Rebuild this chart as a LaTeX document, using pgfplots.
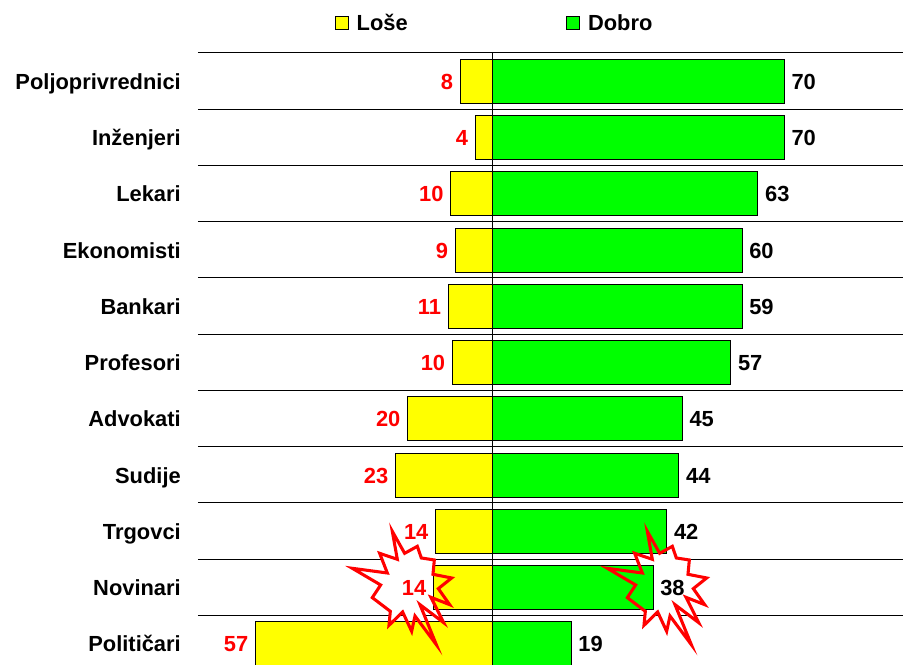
\documentclass[border=0pt]{standalone}
\usepackage{fontspec}
\setmainfont{Liberation Sans}
\usepackage{pgfplots}
\usepackage{pgfplotstable}
\pgfplotsset{compat=1.18}
\definecolor{ly}{RGB}{255,255,0}
\definecolor{lg}{RGB}{0,255,0}
\newcommand{\lab}{\fontsize{16.4}{18}\selectfont\bfseries}
% row, lose, dobro, rounded labels
\pgfplotstableread{
row lose dobro ll dl
0 -7.7 69.8 8 70
1 -4.1 69.8 4 70
2 -10.0 63.5 10 63
3 -8.9 59.7 9 60
4 -10.6 59.7 11 59
5 -9.6 57.0 10 57
6 -20.3 45.4 20 45
7 -23.2 44.6 23 44
8 -13.6 41.7 14 42
9 -14.1 38.4 14 38
10 -56.7 18.8 57 19
}\mydata
% burst outline, in px/3 units from (345,520)
\pgfplotstableread{
zx zy
142 34
179 100
217 79
229 114
268 120
264 163
320 174
280 206
314 254
258 232
296 308
225 254
274 374
210 288
200 334
173 276
132 316
136 274
82 233
107 195
22 145
127 159
104 100
157 118
142 34
179 100
}\burst
\begin{document}
\begin{tikzpicture}
\useasboundingbox (0,0) rectangle (677.25pt,498pt);
\begin{axis}[
  at={(148.5pt,0pt)}, anchor=south west,
  scale only axis, width=528.75pt, height=459pt,
  xmin=-70.45, xmax=98.21,
  ymin=-0.524, ymax=10.356, y dir=reverse,
  axis line style={draw=none},
  xtick=\empty,
  ytick={0,...,10},
  yticklabels={Poljoprivrednici,Inženjeri,Lekari,Ekonomisti,Bankari,Profesori,Advokati,Sudije,Trgovci,Novinari,Političari},
  minor ytick={-0.52,0.49,1.49,2.49,3.49,4.49,5.49,6.49,7.49,8.49,9.49},
  yminorgrids=true,
  minor grid style={black,line width=.75pt},
  major tick length=0pt, minor tick length=0pt,
  y tick label style={font=\lab,inner sep=0pt,xshift=-12.75pt,text height=12pt,text depth=0.2pt},
  bar shift=0pt, bar width=33pt,
  legend style={draw=none,fill=none,at={(0.1943,1.0491)},anchor=west,inner sep=0pt,outer sep=0pt,legend columns=2,font=\lab,
    /tikz/every odd column/.append style={column sep=3.75pt},
    /tikz/every even column/.append style={column sep=117pt},
    legend cell align=left},
  legend image code/.code={\draw[#1,draw=black,line width=.75pt] (0pt,-5.95pt) rectangle (9.75pt,3.8pt);},
  /pgfplots/table/burstat/.style={x expr={(#1+\thisrow{zx}/3-492.5)/4.18}, y expr={(520+\thisrow{zy}/3-81.5)/56.25}},
]
% white interiors of the bursts, under the bars
\addplot[fill=white,draw=none,forget plot] table[burstat=345] {\burst};
\addplot[fill=white,draw=none,forget plot] table[burstat=600] {\burst};
% bars
\addplot[xbar,fill=ly,draw=black,line width=.75pt] table[x=lose,y=row] {\mydata};
\addlegendentry{\vphantom{Š}Loše}
\addplot[xbar,fill=lg,draw=black,line width=.75pt] table[x=dobro,y=row] {\mydata};
\addlegendentry{\vphantom{Š}Dobro}
% burst outlines
\addplot[draw=red,line width=2.3pt,line join=miter,forget plot] table[burstat=345] {\burst};
\addplot[draw=red,line width=2.3pt,line join=miter,forget plot] table[burstat=600] {\burst};
% value labels
\addplot[draw=none,mark=none,forget plot,point meta=explicit symbolic,
  nodes near coords,
  every node near coord/.style={font=\lab,text=red,anchor=east,inner sep=0pt,xshift=-5.25pt,yshift=-.3pt}]
  table[x=lose,y=row,meta=ll] {\mydata};
\addplot[draw=none,mark=none,forget plot,point meta=explicit symbolic,
  nodes near coords,
  every node near coord/.style={font=\lab,text=black,anchor=west,inner sep=0pt,xshift=5.25pt,yshift=-.3pt}]
  table[x=dobro,y=row,meta=dl] {\mydata};
% zero line
\addplot[black,line width=.75pt,forget plot] coordinates {(0,-0.524) (0,10.356)};
\end{axis}
\end{tikzpicture}
\end{document}
